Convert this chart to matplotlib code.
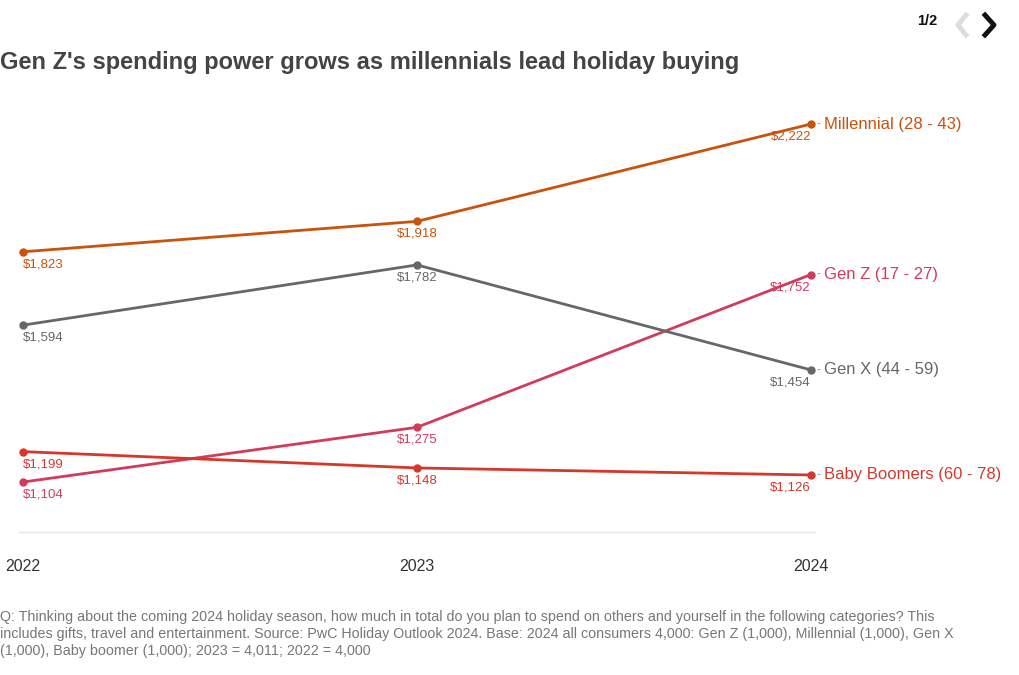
import matplotlib
matplotlib.use("Agg")
import matplotlib.pyplot as plt
from matplotlib.lines import Line2D

plt.rcParams['font.family'] = ['Liberation Sans', 'DejaVu Sans']

years = [2022, 2023, 2024]
series_names = ["Millennial (28 - 43)", "Gen Z (17 - 27)", "Gen X (44 - 59)", "Baby Boomers (60 - 78)"]
millennial = [1823, 1918, 2222]
gen_z = [1104, 1275, 1752]
gen_x = [1594, 1782, 1454]
boomers = [1199, 1148, 1126]
colors = ["#c9520c", "#d23c5c", "#676767", "#d6372b"]

title = "Gen Z's spending power grows as millennials lead holiday buying"
footnote = ("Q: Thinking about the coming 2024 holiday season, how much in total do you plan to spend on others and yourself in the following categories? This\n"
            "includes gifts, travel and entertainment. Source: PwC Holiday Outlook 2024. Base: 2024 all consumers 4,000: Gen Z (1,000), Millennial (1,000), Gen X\n"
            "(1,000), Baby boomer (1,000); 2023 = 4,011; 2022 = 4,000")

W, H = 1020, 675
fig = plt.figure(figsize=(W / 100, H / 100), dpi=100)
# axes: x from px 23 to 811, y from px 100 (top) to 532 (bottom)
ax = fig.add_axes([23 / W, 1 - 532 / H, (811 - 23) / W, (532 - 100) / H])
ax.set_xlim(2022, 2024)
ax.set_ylim(948, 2297)
ax.axis("off")

# baseline
ax.plot([2022 - 0.01, 2024 + 0.01], [948, 948], color="#e6e6e6", lw=1, clip_on=False)

all_series = [millennial, gen_z, gen_x, boomers]
for name, vals, c in zip(series_names, all_series, colors):
    ax.plot(years, vals, color=c, lw=2, marker="o", ms=5, clip_on=False, zorder=3)
    for i, (x, v) in enumerate(zip(years, vals)):
        ha = ["left", "center", "right"][i]
        ax.annotate(f"${v:,}", (x, v), xytext=(0, -9), textcoords="offset points",
                    ha=ha, va="center", fontsize=9.5, color=c)
    # series label
    ax.annotate("-", (2024, vals[-1]), xytext=(4, 0), textcoords="offset points",
                ha="left", va="center", fontsize=9, color="#999999")
    ax.annotate(name, (2024, vals[-1]), xytext=(9.5, 0), textcoords="offset points",
                ha="left", va="center", fontsize=12, color=c)

# year tick labels
for y in years:
    ax.annotate(str(y), (y, 948), xytext=(0, -24.5), textcoords="offset points",
                ha="center", va="center", fontsize=11.5, color="#333333")

fig.text(0 / W, 1 - 63 / H, title, ha="left", va="center", fontsize=17,
         fontweight="bold", color="#444444")

fig.text(0 / W, 1 - 610 / H, footnote, ha="left", va="top", fontsize=10.3,
         color="#777777", linespacing=1.27)

# navigation "1/2" with chevrons
fig.text(927 / W, 1 - 21 / H, "1/2", ha="center", va="center", fontsize=10.5,
         fontweight="bold", color="#111111")
fig.add_artist(Line2D([966 / W, 958 / W, 966 / W], [1 - 15 / H, 1 - 25 / H, 1 - 35 / H],
                      transform=fig.transFigure, color="#dddddd", lw=3.5))
fig.add_artist(Line2D([985 / W, 994 / W, 985 / W], [1 - 15 / H, 1 - 25 / H, 1 - 35 / H],
                      transform=fig.transFigure, color="#111111", lw=3.5))

fig.savefig("out.png", dpi=100)
